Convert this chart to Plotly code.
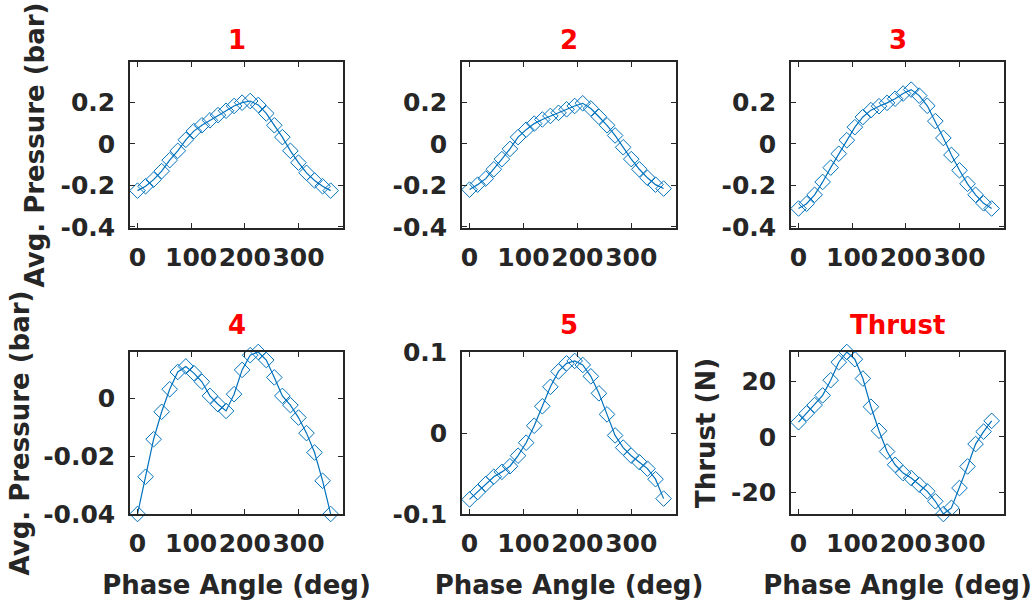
import plotly.graph_objects as go

# ---- data ----
phase = [0, 15, 30, 45, 60, 75, 90, 105, 120, 135, 150, 165, 180,
         195, 210, 225, 240, 255, 270, 285, 300, 315, 330, 345, 360]

p1 = [-0.225, -0.204, -0.172, -0.131, -0.078, -0.033, 0.020, 0.062, 0.090, 0.114,
      0.139, 0.160, 0.183, 0.199, 0.207, 0.188, 0.147, 0.090, 0.033, -0.033,
      -0.090, -0.139, -0.176, -0.204, -0.225]
p2 = [-0.220, -0.196, -0.167, -0.122, -0.073, -0.024, 0.033, 0.069, 0.098, 0.118,
      0.135, 0.150, 0.167, 0.183, 0.196, 0.171, 0.131, 0.090, 0.041, -0.016,
      -0.073, -0.122, -0.163, -0.196, -0.215]
p3 = [-0.311, -0.288, -0.245, -0.183, -0.114, -0.047, 0.018, 0.081, 0.130, 0.163,
      0.182, 0.198, 0.218, 0.243, 0.262, 0.233, 0.184, 0.110, 0.029, -0.053,
      -0.127, -0.192, -0.245, -0.286, -0.311]
p4 = [-0.0400, -0.0271, -0.0141, -0.0046, 0.0032, 0.0092, 0.0111, 0.0088, 0.0058, 0.0009,
      -0.0020, -0.0043, 0.0015, 0.0099, 0.0150, 0.0161, 0.0133, 0.0073, 0.0009, -0.0023,
      -0.0066, -0.0120, -0.0187, -0.0285, -0.0400]
p5 = [-0.082, -0.073, -0.063, -0.054, -0.048, -0.041, -0.028, -0.012, 0.009, 0.033,
      0.057, 0.076, 0.086, 0.089, 0.084, 0.070, 0.049, 0.023, -0.003, -0.018,
      -0.028, -0.036, -0.044, -0.057, -0.081]
thrust = [5.3, 8.5, 11.5, 15.0, 20.5, 27.0, 30.7, 28.1, 21.1, 10.9, 2.2, -5.3, -10.1,
          -13.1, -14.9, -17.3, -19.7, -23.3, -27.9, -25.7, -18.5, -10.7, -2.6, 1.9, 5.8]

series = [p1, p2, p3, p4, p5, thrust]
titles = ["1", "2", "3", "4", "5", "Thrust"]

xtick_vals = [0, 100, 200, 300]
xtick_text = ["0", "100", "200", "300"]
ytick_sets = [
    ([-0.4, -0.2, 0, 0.2], ["-0.4", "-0.2", "0", "0.2"]),
    ([-0.4, -0.2, 0, 0.2], ["-0.4", "-0.2", "0", "0.2"]),
    ([-0.4, -0.2, 0, 0.2], ["-0.4", "-0.2", "0", "0.2"]),
    ([-0.04, -0.02, 0], ["-0.04", "-0.02", "0"]),
    ([-0.1, 0, 0.1], ["-0.1", "0", "0.1"]),
    ([-20, 0, 20], ["-20", "0", "20"]),
]
yranges = [
    [-0.405, 0.395], [-0.405, 0.395], [-0.405, 0.395],
    [min(p4), max(p4)], [-0.1, 0.1], [min(thrust), max(thrust)],
]
ytitles = ["Avg. Pressure (bar)", "", "", "Avg. Pressure (bar)", "", "Thrust (N)"]
xtitle = "Phase Angle (deg)"

# ---- layout geometry ----
W, H = 1034, 607
col_px = [(130, 343), (462, 676), (791, 1004)]
row_px = [(62, 228), (352, 514)]

BLUE = "#0072BD"
DARK = "#262626"
FONT = "DejaVu Sans"

fig = go.Figure()
layout = dict(
    width=W, height=H, margin=dict(l=0, r=0, t=0, b=0, pad=0, autoexpand=False),
    paper_bgcolor="white", plot_bgcolor="white", showlegend=False,
    font=dict(family=FONT, color=DARK),
)
annotations = []

for i, ys in enumerate(series):
    r, c = divmod(i, 3)
    n = i + 1
    xa = "x" if n == 1 else f"x{n}"
    ya = "y" if n == 1 else f"y{n}"
    fig.add_trace(go.Scatter(
        x=phase, y=ys, mode="lines+markers", xaxis=xa, yaxis=ya,
        line=dict(color=BLUE, width=1.2),
        marker=dict(symbol="diamond-open", size=12, color=BLUE, line=dict(width=1, color=BLUE)),
        cliponaxis=False,
    ))
    x0, x1 = col_px[c]
    y0, y1 = row_px[r]
    common = dict(
        showline=True, linecolor=DARK, linewidth=1.5, mirror="ticks",
        ticks="inside", ticklen=5, tickwidth=1, tickcolor=DARK,
        showgrid=False, zeroline=False, automargin=False,
        tickfont=dict(family=FONT, size=25, color=DARK, weight="bold"),
    )
    xaxis = dict(common, domain=[x0 / W, x1 / W], range=[-14, 383],
                 tickvals=xtick_vals, ticktext=xtick_text, tickangle=0,
                 anchor=ya, ticklabelstandoff=6)
    if r == 1:
        xaxis["title"] = dict(text=xtitle, standoff=19,
                              font=dict(family=FONT, size=26, color=DARK, weight="bold"))
    tv, tt = ytick_sets[i]
    yaxis = dict(common, domain=[1 - y1 / H, 1 - y0 / H], range=yranges[i],
                 tickvals=tv, ticktext=tt, anchor=xa, ticklabelstandoff=8)
    if ytitles[i]:
        yaxis["title"] = dict(text=ytitles[i], standoff=6 if i == 3 else 8,
                              font=dict(family=FONT, size=26, color=DARK, weight="bold"))
    layout["xaxis" if n == 1 else f"xaxis{n}"] = xaxis
    layout["yaxis" if n == 1 else f"yaxis{n}"] = yaxis

    title_y = 40 if r == 0 else 325
    annotations.append(dict(
        text=titles[i], xref="paper", yref="paper",
        x=(x0 + x1) / 2 / W, y=1 - title_y / H, xanchor="center", yanchor="middle",
        showarrow=False, font=dict(family=FONT, size=26, color="#FF0000", weight="bold"),
    ))

layout["annotations"] = annotations
fig.update_layout(**layout)
fig.write_html("out.html")
